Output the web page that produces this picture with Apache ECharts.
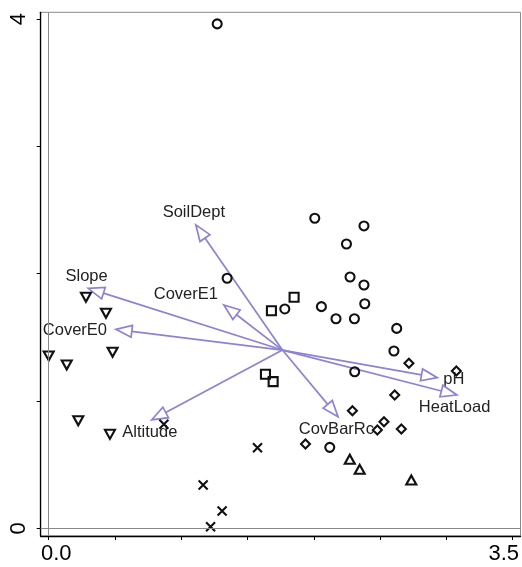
<!DOCTYPE html>
<html>
<head>
<meta charset="utf-8">
<script src="https://cdn.jsdelivr.net/npm/echarts@6/dist/echarts.min.js"></script>
<style>
  html, body { margin: 0; padding: 0; background: #fff; }
  #chart { width: 522px; height: 567px; }
</style>
</head>
<body>
<div id="chart"></div>
<script>
// Axis ticks and labels
const xTicks = [0, 0.5, 1, 1.5, 2, 2.5, 3, 3.5];
const yTicks = [0, 1, 2, 3, 4];
const xTickLabels = [0, 3.5];
const yTickLabels = [0, 4];

// Site scores, one array per group
const circleSites = [[1.271, 3.962], [2.007, 2.435], [2.378, 2.375], [2.246, 2.233], [2.273, 1.974],
  [2.378, 1.911], [2.384, 1.764], [2.057, 1.741], [1.781, 1.723], [2.167, 1.646], [2.306, 1.646],
  [2.625, 1.570], [1.346, 1.964], [2.604, 1.393], [2.308, 1.230], [2.120, 0.636]];
const squareSites = [[1.680, 1.709], [1.851, 1.815], [1.635, 1.210], [1.693, 1.152]];
const downTriangleSites = [[0.281, 1.815], [0.432, 1.689], [0.482, 1.383], [0.000, 1.354],
  [0.136, 1.283], [0.223, 0.845], [0.462, 0.738]];
const crossSites = [[0.869, 0.817], [1.575, 0.633], [1.165, 0.340], [1.308, 0.136], [1.221, 0.013]];
const diamondSites = [[2.717, 1.296], [3.075, 1.236], [2.610, 1.047], [2.291, 0.924], [2.529, 0.837],
  [2.479, 0.772], [2.660, 0.780], [1.937, 0.662]];
const upTriangleSites = [[2.271, 0.542], [2.346, 0.463], [2.735, 0.379]];

// Environmental vectors (tips) and their common origin
const envNames = ['SoilDept', 'Slope', 'CoverE1', 'CoverE0', 'Altitude', 'pH', 'HeatLoad', 'CovBarRc'];
const envX = [1.110, 0.298, 1.321, 0.507, 0.776, 2.931, 3.079, 2.182];
const envY = [2.383, 1.885, 1.754, 1.563, 0.851, 1.183, 1.047, 0.877];
const arrowOrigin = [1.763, 1.400];

// Label placement relative to each arrow tip (pixels)
const labelOffsets = [[-2, -12.3], [-1.6, -11.6], [-38, -11], [-41, 0.7], [-1.7, 12.7],
  [16.6, 1.3], [-2.3, 12.3], [-1.6, 12.6]];

const ARROW = '#8C83D3';
const INK = '#111';
const HEAD_LEN = 16;
const HEAD_HW = 6;
const FONT = '"Liberation Sans", Arial, sans-serif';

const chart = echarts.init(document.getElementById('chart'), null, { renderer: 'canvas' });

function siteSeries(data, symbol, size, rotate) {
  return {
    type: 'scatter',
    data: data,
    symbol: symbol,
    symbolSize: size,
    symbolRotate: rotate || 0,
    z: 3,
    silent: true,
    itemStyle: { color: 'rgba(0,0,0,0)', borderColor: INK, borderWidth: 2.1, opacity: 1 }
  };
}

const circles = siteSeries(circleSites, 'circle', 9);
circles.markLine = {
  silent: true,
  symbol: ['none', 'none'],
  label: { show: false },
  lineStyle: { color: '#8a8a8a', width: 1, type: 'solid' },
  data: [{ xAxis: 0 }, { yAxis: 0 }],
  animation: false
};

const option = {
  animation: false,
  backgroundColor: '#fff',
  grid: {
    left: 40.7, right: 1, top: 12.3, bottom: 31,
    show: true, borderColor: '#8a8a8a', borderWidth: 1, containLabel: false
  },
  xAxis: {
    type: 'value',
    min: -0.0603, max: 3.559,
    splitLine: { show: false },
    axisLine: { show: true, onZero: false, lineStyle: { color: '#000', width: 1.3 } },
    axisTick: { show: true, customValues: xTicks, length: 4, lineStyle: { color: '#000', width: 1 } },
    axisLabel: {
      show: true,
      customValues: xTickLabels,
      margin: 7,
      color: '#000',
      fontFamily: FONT,
      fontSize: 22,
      formatter: function (v) {
        return v === 0 ? '{l|' + v.toFixed(1) + '}' : '{r|' + v.toFixed(1) + '}';
      },
      rich: {
        l: { fontSize: 22, fontFamily: FONT, color: '#000', padding: [0, 0, 0, 15] },
        r: { fontSize: 22, fontFamily: FONT, color: '#000', padding: [0, 18, 0, 0] }
      }
    }
  },
  yAxis: {
    type: 'value',
    min: -0.0605, max: 4.053,
    splitLine: { show: false },
    axisLine: { show: true, onZero: false, lineStyle: { color: '#000', width: 1.3 } },
    axisTick: { show: true, customValues: yTicks, length: 4, lineStyle: { color: '#000', width: 1 } },
    axisLabel: {
      show: true,
      customValues: yTickLabels,
      rotate: 90,
      margin: 11,
      color: '#000',
      fontFamily: FONT,
      fontSize: 22,
      formatter: function (v) { return String(v); }
    }
  },
  series: [
    {
      type: 'custom',
      coordinateSystem: 'cartesian2d',
      z: 2,
      silent: true,
      clip: false,
      data: envX.map(function (x, i) { return [x, envY[i], i]; }),
      encode: { x: 0, y: 1 },
      renderItem: function (params, api) {
        const i = api.value(2);
        const o = api.coord(arrowOrigin);
        const t = api.coord([api.value(0), api.value(1)]);
        const dx = t[0] - o[0], dy = t[1] - o[1];
        const len = Math.hypot(dx, dy);
        const ux = dx / len, uy = dy / len;
        const bx = t[0] - ux * HEAD_LEN, by = t[1] - uy * HEAD_LEN;
        const px = -uy, py = ux;
        const off = labelOffsets[i];
        return {
          type: 'group',
          children: [
            {
              type: 'line',
              shape: { x1: o[0], y1: o[1], x2: bx, y2: by },
              style: { stroke: ARROW, lineWidth: 1.7 }
            },
            {
              type: 'polygon',
              shape: { points: [[t[0], t[1]], [bx + px * HEAD_HW, by + py * HEAD_HW], [bx - px * HEAD_HW, by - py * HEAD_HW]] },
              style: { fill: '#fff', stroke: ARROW, lineWidth: 1.7, lineJoin: 'miter' }
            },
            {
              type: 'text',
              x: t[0] + off[0],
              y: t[1] + off[1],
              style: {
                text: envNames[i],
                fill: '#222',
                fontSize: 16.5,
                fontFamily: FONT,
                align: 'center',
                verticalAlign: 'middle'
              }
            }
          ]
        };
      }
    },
    circles,
    siteSeries(squareSites, 'rect', 9),
    siteSeries(downTriangleSites, 'triangle', [10, 9], 180),
    siteSeries(upTriangleSites, 'triangle', [10, 9]),
    siteSeries(diamondSites, 'diamond', [9, 9]),
    siteSeries(crossSites, 'path://M0,0L10,10M10,0L0,10', 9)
  ]
};

chart.setOption(option);
</script>
</body>
</html>
